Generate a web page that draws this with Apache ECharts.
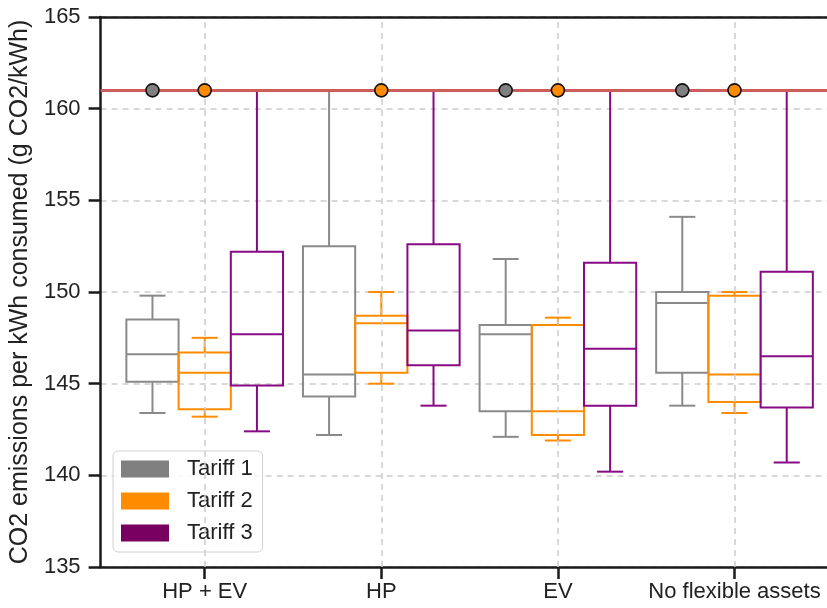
<!DOCTYPE html>
<html>
<head>
<meta charset="utf-8">
<script src="https://cdn.jsdelivr.net/npm/echarts@6/dist/echarts.min.js"></script>
<style>
  html, body { margin: 0; padding: 0; background: #fff; }
  #chart { width: 827px; height: 608px; }
</style>
</head>
<body>
<div id="chart"></div>
<script>
const categories = ['HP + EV', 'HP', 'EV', 'No flexible assets'];
const seriesNames = ['Tariff 1', 'Tariff 2', 'Tariff 3'];
const yTicks = [135, 140, 145, 150, 155, 160, 165];

// [min, q1, median, q3, max] per category
const tariff1 = [
  [143.4, 145.1, 146.6, 148.5, 149.8],
  [142.2, 144.3, 145.5, 152.5, 161.0],
  [142.1, 143.5, 147.7, 148.2, 151.8],
  [143.8, 145.6, 149.4, 150.0, 154.1],
];
const tariff2 = [
  [143.2, 143.6, 145.6, 146.7, 147.5],
  [145.0, 145.6, 148.3, 148.7, 150.0],
  [141.9, 142.2, 143.5, 148.2, 148.6],
  [143.4, 144.0, 145.5, 149.8, 150.0],
];
const tariff3 = [
  [142.4, 144.9, 147.7, 152.2, 161.0],
  [143.8, 146.0, 147.9, 152.6, 161.0],
  [140.2, 143.8, 146.9, 151.6, 161.0],
  [140.7, 143.7, 146.5, 151.1, 161.0],
];
// outliers: [category index, value]
const outliers1 = [[0, 161.0], [2, 161.0], [3, 161.0]];
const outliers2 = [[0, 161.0], [1, 161.0], [2, 161.0], [3, 161.0]];
const referenceLine = 161.0;

const lineColors = ['#8a8a8a', '#ff8c00', '#870a84'];
const fillColors = ['#808080', '#ff8c00', '#780060'];
const BOX_FRAC = 0.2957;
const FONT = '"Liberation Sans", Arial, sans-serif';
const TEXT = '#222222';

const chart = echarts.init(document.getElementById('chart'));

function boxRender(k) {
  return function (params, api) {
    const cat = api.value(0);
    const bw = api.size([1, 0])[0];
    const w = bw * BOX_FRAC;
    const cx = api.coord([cat, 0])[0] + (k - 1) * w;
    const y = (i) => api.coord([cat, api.value(i)])[1];
    const lo = y(1), q1 = y(2), med = y(3), q3 = y(4), hi = y(5);
    const st = { stroke: lineColors[k], lineWidth: 2, fill: null };
    const line = (x1, y1, x2, y2) => ({
      type: 'line', shape: { x1, y1, x2, y2 }, style: st,
    });
    return {
      type: 'group',
      children: [
        { type: 'rect', shape: { x: cx - w / 2, y: q3, width: w, height: q1 - q3 }, style: st },
        line(cx - w / 2, med, cx + w / 2, med),
        line(cx, q3, cx, hi),
        line(cx, q1, cx, lo),
        line(cx - w / 4, hi, cx + w / 4, hi),
        line(cx - w / 4, lo, cx + w / 4, lo),
      ],
    };
  };
}

function outlierRender(k) {
  return function (params, api) {
    const cat = api.value(0);
    const bw = api.size([1, 0])[0];
    const w = bw * BOX_FRAC;
    const p = api.coord([cat, api.value(1)]);
    return {
      type: 'circle',
      shape: { cx: p[0] + (k - 1) * w, cy: p[1], r: 6.5 },
      style: { fill: fillColors[k], stroke: '#111', lineWidth: 1.6 },
    };
  };
}

const boxData = [tariff1, tariff2, tariff3].map((t) =>
  t.map((d, i) => [i].concat(d))
);

const option = {
  animation: false,
  textStyle: { fontFamily: FONT },
  grid: [
    { left: 100, top: 17, width: 727, height: 550 },
    { left: 116.4, top: 17, width: 706.4, height: 550 },
  ],
  xAxis: [
    {
      gridIndex: 0, type: 'category', data: ['_'],
      axisLine: { lineStyle: { color: '#1a1a1a', width: 2.5 } },
      axisTick: { show: false }, axisLabel: { show: false }, splitLine: { show: false },
    },
    {
      gridIndex: 0, type: 'category', data: ['_'], position: 'top',
      axisLine: { lineStyle: { color: '#1a1a1a', width: 2.5 } },
      axisTick: { show: false }, axisLabel: { show: false }, splitLine: { show: false },
    },
    {
      gridIndex: 1, type: 'category', data: categories,
      axisLine: { show: false },
      axisTick: { show: true, alignWithLabel: true, interval: 0, length: 12, lineStyle: { color: '#1a1a1a', width: 2.5 } },
      axisLabel: { fontSize: 22, color: TEXT, margin: 14, interval: 0, hideOverlap: false, fontFamily: FONT },
      splitLine: { show: false },
    },
  ],
  yAxis: [
    {
      gridIndex: 0, type: 'value', min: yTicks[0], max: yTicks[yTicks.length - 1], interval: 5,
      name: 'CO2 emissions per kWh consumed (g CO2/kWh)',
      nameLocation: 'middle', nameGap: 66,
      nameTextStyle: { fontSize: 25, color: TEXT, fontFamily: FONT },
      axisLine: { show: true, lineStyle: { color: '#1a1a1a', width: 2.5 } },
      axisTick: { show: true, length: 12, lineStyle: { color: '#1a1a1a', width: 2.5 } },
      axisLabel: { fontSize: 22, color: TEXT, margin: 20, fontFamily: FONT },
      splitLine: { show: true, lineStyle: { color: '#cccccc', width: 1.5, type: [6, 5] } },
    },
    {
      gridIndex: 1, type: 'value', min: yTicks[0], max: yTicks[yTicks.length - 1], show: false,
    },
  ],
  legend: {
    orient: 'vertical', left: 113, top: 451,
    itemWidth: 48, itemHeight: 17, itemGap: 10, icon: 'rect',
    padding: [7, 10, 8, 8],
    borderColor: '#d0d0d0', borderWidth: 1, borderRadius: 5,
    backgroundColor: 'rgba(255,255,255,0.85)',
    textStyle: { fontSize: 22, color: TEXT, fontFamily: FONT, padding: [0, 0, 0, 13] },
    data: seriesNames.map((n, k) => ({ name: n, itemStyle: { color: fillColors[k], borderWidth: 0 } })),
  },
  series: [
    {
      type: 'line', xAxisIndex: 2, yAxisIndex: 1, data: [], z: 1, silent: true,
      markLine: {
        symbol: 'none', silent: true, label: { show: false }, animation: false,
        lineStyle: { color: '#cccccc', width: 1.5, type: [6, 5] },
        data: categories.map((c) => ({ xAxis: c })),
      },
    },
    ...seriesNames.map((n, k) => ({
      name: n, type: 'custom', xAxisIndex: 2, yAxisIndex: 1, z: 4,
      itemStyle: { color: fillColors[k] },
      renderItem: boxRender(k),
      encode: { x: 0, y: [1, 2, 3, 4, 5] },
      data: boxData[k],
    })),
    {
      type: 'line', xAxisIndex: 0, yAxisIndex: 0, data: [], z: 5, silent: true,
      markLine: {
        symbol: 'none', silent: true, label: { show: false }, animation: false,
        lineStyle: { color: '#cd5c5c', width: 3, type: 'solid' },
        data: [{ yAxis: referenceLine }],
      },
    },
    {
      name: 'Tariff 1 outliers', type: 'custom', xAxisIndex: 2, yAxisIndex: 1, z: 6,
      renderItem: outlierRender(0), encode: { x: 0, y: 1 }, data: outliers1,
    },
    {
      name: 'Tariff 2 outliers', type: 'custom', xAxisIndex: 2, yAxisIndex: 1, z: 6,
      renderItem: outlierRender(1), encode: { x: 0, y: 1 }, data: outliers2,
    },
  ],
};

chart.setOption(option);
</script>
</body>
</html>
